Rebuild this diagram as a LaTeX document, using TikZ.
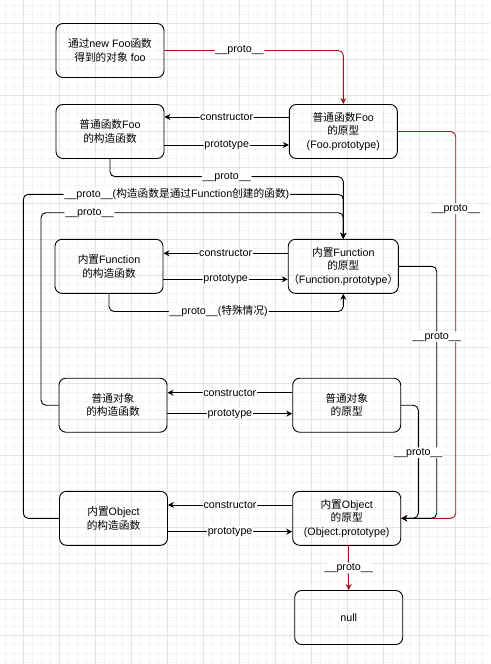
\documentclass[tikz,border=0pt]{standalone}
\usepackage{fontspec}
\setmainfont{Liberation Sans}
\newfontfamily\cjk{Noto Sans CJK SC}
\newcommand{\zh}[1]{{\cjk #1}}
\usetikzlibrary{arrows.meta}
\definecolor{gridmaj}{HTML}{E4E4E4}
\definecolor{gridmin}{HTML}{F4F4F4}
\definecolor{protored}{HTML}{A3161B}
\tikzset{
  box/.style={draw=black, line width=0.9pt, rounded corners=7pt, minimum width=108pt, minimum height=54pt, inner sep=0pt, align=center, font=\fontsize{10.7}{13.4}\selectfont},
  link/.style={draw=black, line width=0.9pt, rounded corners=5pt, -{Stealth[length=6pt,width=6pt]}},
  rlink/.style={link, draw=protored},
  lab/.style={fill=white, inner sep=0.8pt, text=black, font=\fontsize{10.7}{12}\selectfont},
  gmin/.style={draw=gridmin, line width=0.5pt},
  gmaj/.style={draw=gridmaj, line width=0.6pt},
}

\begin{document}
\begin{tikzpicture}[x=1pt,y=-1pt]
  \useasboundingbox (0,0) rectangle (490,664);
  \fill[white] (0,0) rectangle (490,664);
  % grid
  \foreach \i in {0,...,54} {\draw[gmin] ({5.3+9*\i},0) -- ++(0,664);}
  \foreach \i in {0,...,73} {\draw[gmin] (0,{5.3+9*\i}) -- ++(490,0);}
  \foreach \i in {0,...,13} {\draw[gmaj] ({23.3+36*\i},0) -- ++(0,664);}
  \foreach \i in {0,...,18} {\draw[gmaj] (0,{23.3+36*\i}) -- ++(490,0);}

  % boxes
  \node[box] (foo) at (110,50.5) {\zh{通过}new Foo\zh{函数}\\\zh{得到的对象} foo};
  \node[box] (fooCtor) at (110,131.5) {\zh{普通函数}Foo\\\zh{的构造函数}};
  \node[box] (fooProto) at (343.3,131.5) {\zh{普通函数}Foo\\\zh{的原型}\\(Foo.prototype)};
  \node[box] (fnCtor) at (109,266.3) {\zh{内置}Function\\\zh{的构造函数}};
  \node[box] (fnProto) at (343.3,266.3) {\zh{内置}Function\\\zh{的原型}\\\zh{（}Function.prototype\zh{）}};
  \node[box] (objCtor) at (113,405.2) {\zh{普通对象}\\\zh{的构造函数}};
  \node[box] (objProto) at (346.7,405.2) {\zh{普通对象}\\\zh{的原型}};
  \node[box] (bObjCtor) at (113.5,518.3) {\zh{内置}Object\\\zh{的构造函数}};
  \node[box] (bObjProto) at (346.7,518.3) {\zh{内置}Object\\\zh{的原型}\\(Object.prototype)};
  \node[box] (nullBox) at (348.7,617.5) {null};

  % constructor / prototype pairs
  \draw[link] ([yshift=14.5pt]fooProto.west) -- node[lab]{constructor} ([yshift=14.5pt]fooCtor.east);
  \draw[link] ([yshift=-13.5pt]fooCtor.east) -- node[lab]{prototype} ([yshift=-13.5pt]fooProto.west);
  \draw[link] ([yshift=13pt]fnProto.west) -- node[lab]{constructor} ([yshift=13pt]fnCtor.east);
  \draw[link] ([yshift=-13pt]fnCtor.east) -- node[lab]{prototype} ([yshift=-13pt]fnProto.west);
  \draw[link] ([yshift=12.5pt]objProto.west) -- node[lab]{constructor} ([yshift=12.5pt]objCtor.east);
  \draw[link] ([yshift=-8.5pt]objCtor.east) -- node[lab]{prototype} ([yshift=-8.5pt]objProto.west);
  \draw[link] ([yshift=13.3pt]bObjProto.west) -- node[lab]{constructor} ([yshift=13.3pt]bObjCtor.east);
  \draw[link] ([yshift=-13.4pt]bObjCtor.east) -- node[lab]{prototype} ([yshift=-13.4pt]bObjProto.west);

  % __proto__ into Function.prototype
  \coordinate (fnTop) at (23.3,194.3);
  \coordinate (objTop) at (41,212.7);
  \draw[rlink] (foo.east) -| node[lab,pos=0.21]{\_\_proto\_\_} (fooProto.north);
  \draw[link] (fooCtor.south) -- ++(0,17.7) -| node[lab,pos=0.25]{\_\_proto\_\_} (fnProto.north);
  \draw[link] (bObjCtor.west) -| (fnTop) -| node[lab,pos=0.24]{\_\_proto\_\_(\zh{构造函数是通过}Function\zh{创建的函数})} (fnProto.north);
  \draw[link] (objCtor.west) -| (objTop) -| node[lab,pos=0.08]{\_\_proto\_\_} (fnProto.north);
  \draw[link] (fnCtor.south) -- ++(0,17.7) -| node[lab,pos=0.234]{\_\_proto\_\_(\zh{特殊情况})} (fnProto.south);

  % __proto__ into Object.prototype
  \coordinate (rA) at (418.3,518.3);
  \coordinate (rB) at (436.7,518.3);
  \coordinate (rC) at (455.7,518.3);
  \draw[rlink] (fooProto.east) -| node[lab,pos=0.6]{\_\_proto\_\_} (rC) -- (bObjProto.east);
  \draw[link] (fnProto.east) -| node[lab,pos=0.64]{\_\_proto\_\_} (rB) -- (bObjProto.east);
  \draw[link] (objProto.east) -| node[lab,pos=0.71]{\_\_proto\_\_} (rA) -- (bObjProto.east);
  \draw[rlink] (nullBox.north |- bObjProto.south) -- node[lab]{\_\_proto\_\_} (nullBox.north);
\end{tikzpicture}
\end{document}
